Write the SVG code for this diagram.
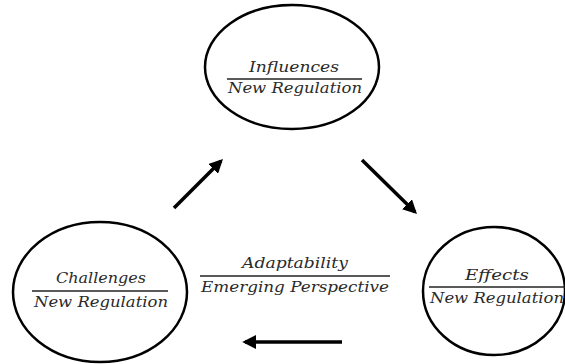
<svg xmlns="http://www.w3.org/2000/svg" width="565" height="364" viewBox="0 0 565 364">
<defs>
<style>
.node{fill:#fff;stroke:#000;stroke-width:2.5}
.t{font-family:"DejaVu Serif","Liberation Serif",serif;font-style:italic;font-size:15px;fill:#2a2a2a;text-anchor:middle}
.bar{stroke:#222;stroke-width:1.3}
.conn{stroke:#000;stroke-width:3.5;fill:none;marker-end:url(#ah)}
</style>
<marker id="ah" viewBox="0 0 10 10" refX="8" refY="5" markerWidth="4" markerHeight="4" orient="auto" markerUnits="strokeWidth">
<path d="M0,0 L10,5 L0,10 z" fill="#000"/>
</marker>
</defs>
<rect width="565" height="364" fill="#fff"/>
<g id="influences">
<ellipse class="node" cx="292" cy="67" rx="87" ry="62"/>
<text class="t" x="294" y="72" textLength="90" lengthAdjust="spacingAndGlyphs">Influences</text>
<line class="bar" x1="227" y1="79" x2="362" y2="79"/>
<text class="t" x="295" y="93" textLength="134" lengthAdjust="spacingAndGlyphs">New Regulation</text>
</g>
<g id="challenges">
<ellipse class="node" cx="100" cy="292" rx="87" ry="70"/>
<text class="t" x="101" y="283" textLength="90" lengthAdjust="spacingAndGlyphs">Challenges</text>
<line class="bar" x1="32" y1="291" x2="168" y2="291"/>
<text class="t" x="101" y="307" textLength="134" lengthAdjust="spacingAndGlyphs">New Regulation</text>
</g>
<g id="effects">
<ellipse class="node" cx="494" cy="291" rx="71" ry="64"/>
<text class="t" x="497" y="280" textLength="64" lengthAdjust="spacingAndGlyphs">Effects</text>
<line class="bar" x1="429" y1="287" x2="565" y2="287"/>
<text class="t" x="497" y="303" textLength="134" lengthAdjust="spacingAndGlyphs">New Regulation</text>
</g>
<g id="adaptability">
<text class="t" x="295" y="268" textLength="106" lengthAdjust="spacingAndGlyphs">Adaptability</text>
<line class="bar" x1="200" y1="276" x2="390" y2="276"/>
<text class="t" x="295" y="292" textLength="188" lengthAdjust="spacingAndGlyphs">Emerging Perspective</text>
</g>
<g id="connectors">
<line class="conn" x1="174" y1="208" x2="221" y2="161"/>
<line class="conn" x1="362" y1="160" x2="415" y2="212"/>
<line class="conn" x1="342" y1="342" x2="245" y2="342"/>
</g>
</svg>
